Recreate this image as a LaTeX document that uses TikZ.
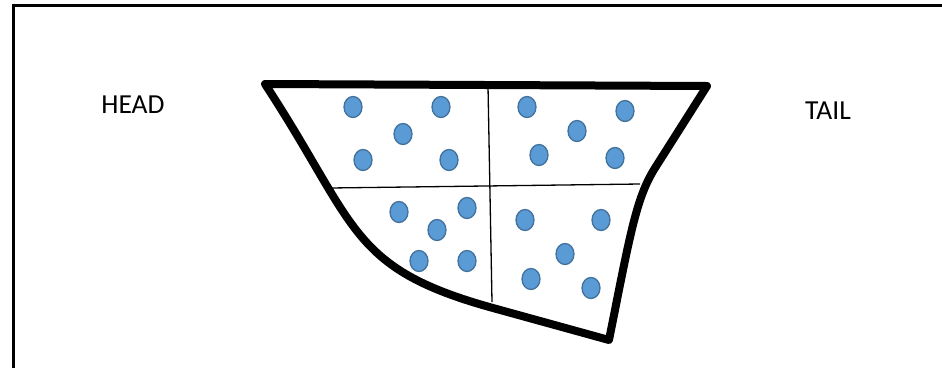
\documentclass[tikz,border=0pt]{standalone}
\usepackage{fontspec}
\setmainfont{Carlito}
\usetikzlibrary{shapes.geometric}
\definecolor{dotfill}{HTML}{5B9BD5}
\definecolor{dotline}{HTML}{41719C}
\tikzset{
    dot/.style={ellipse,fill=dotfill,draw=dotline,line width=1.3pt,minimum width=18pt,minimum height=21pt,inner sep=0pt},
    rim/.style={line width=8pt,line join=round,line cap=round},
    label/.style={font=\fontsize{27.5}{33}\selectfont,inner sep=0pt}
}

\begin{document}
\begin{tikzpicture}[x=1pt,y=-1pt]
            \useasboundingbox (0,0) rectangle (942,368);
            \draw[line width=3pt] (13,368) -- (13,5) -- (942,5);
            \node[label] (head) at (133,105) {HEAD};
            \node[label] (tail) at (828,111) {TAIL};
            % the vessel
            \draw[rim] (265,84) -- (707,86)
                -- (655,168) .. controls (636,198) and (630,235) .. (609,340)
                -- (493,308)
                .. controls (348,268) and (358,226) .. cycle;
            \coordinate (hl) at (330,188);
            \coordinate (hr) at (640,184);
            \coordinate (vt) at (488,86);
            \coordinate (vb) at (492,302);
            \draw[line width=1.3pt] (hl) -- (hr);
            \draw[line width=1.3pt] (vt) -- (vb);
            % particles
            \foreach \i/\x/\y in {1/353/107, 2/441/107, 3/403/134, 4/363/160, 5/449/160,
                                  6/399/212, 7/467/208, 8/437/230, 9/419/261, 10/467/261,
                                  11/527/107, 12/625/111, 13/577/131, 14/539/155, 15/615/158,
                                  16/525/220, 17/601/220, 18/565/254, 19/531/279, 20/591/288}
                \node[dot] (d\i) at (\x,\y) {};
        \end{tikzpicture}
\end{document}
